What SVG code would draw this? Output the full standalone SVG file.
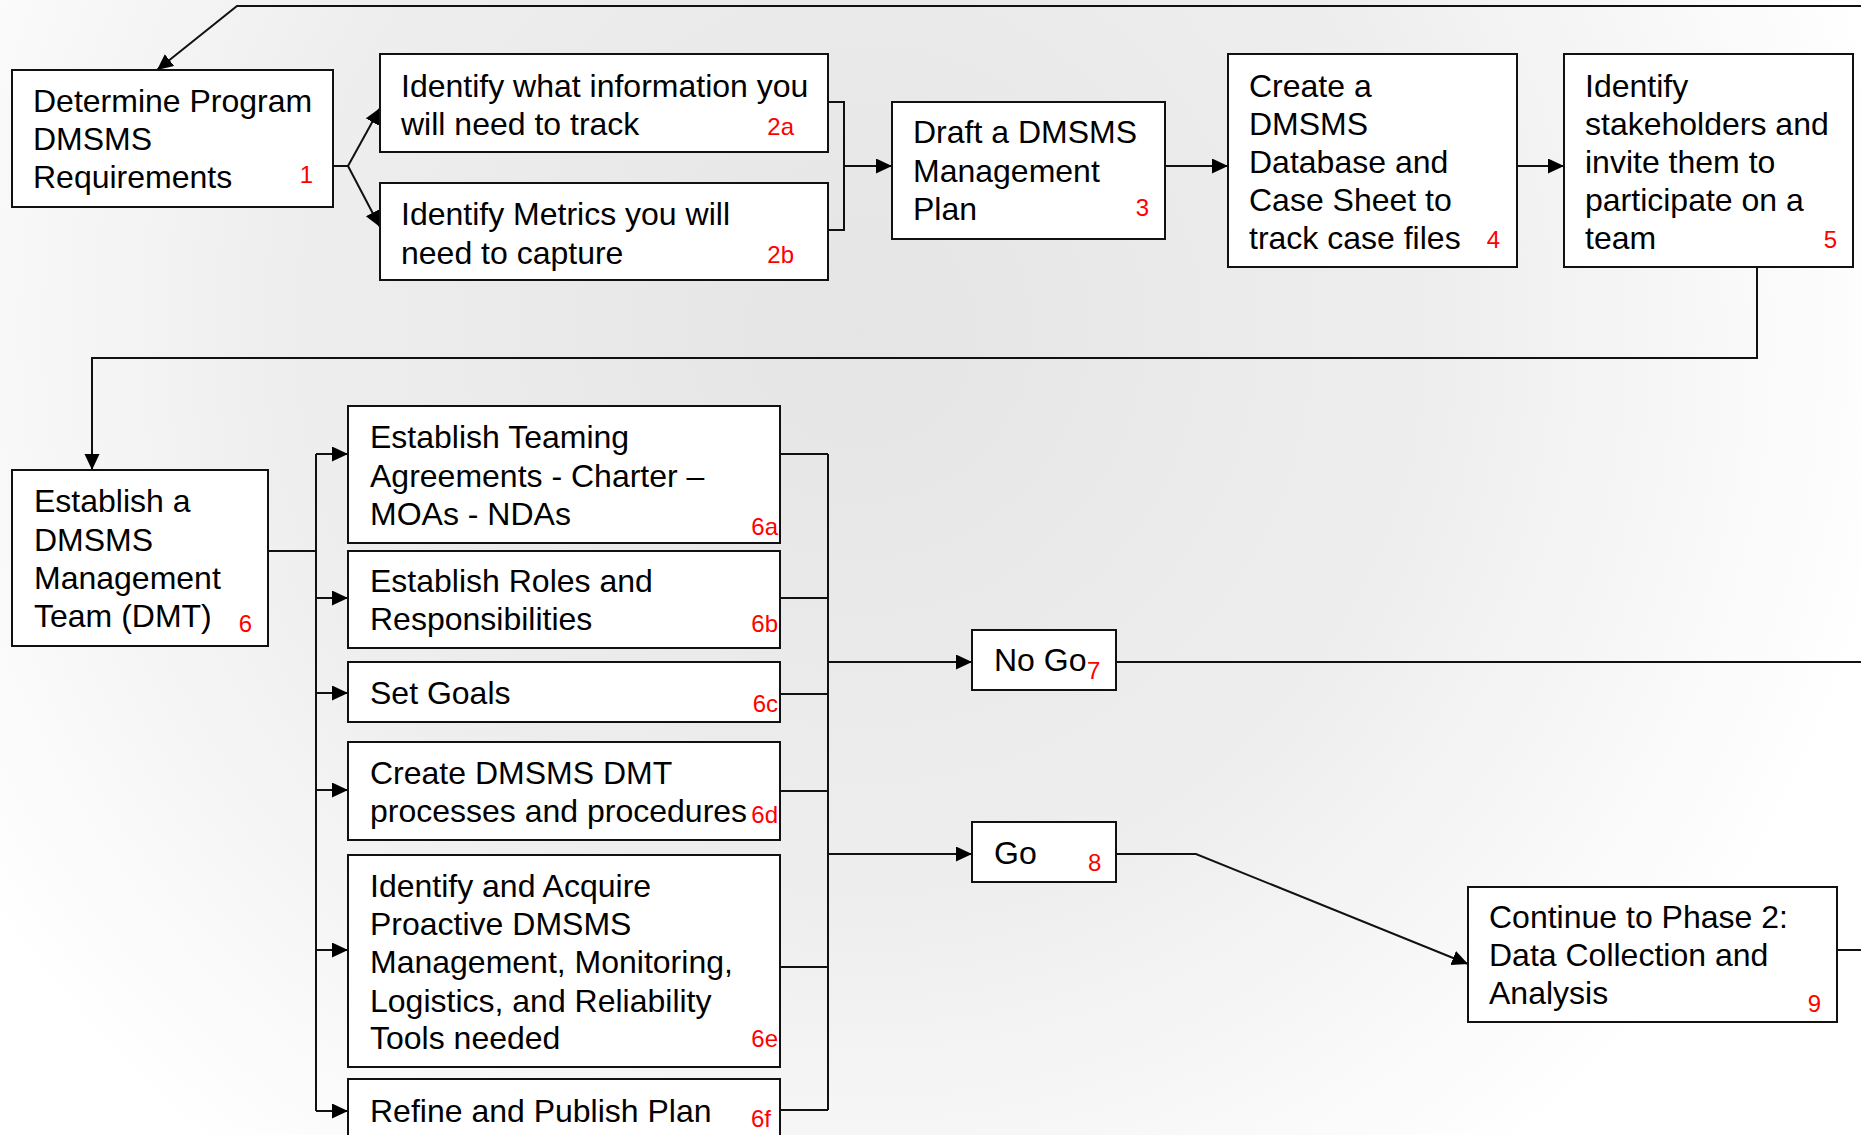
<svg xmlns="http://www.w3.org/2000/svg" width="1861" height="1135" viewBox="0 0 1861 1135">
<defs>
<radialGradient id="bg" gradientUnits="userSpaceOnUse" cx="860" cy="330" r="1050">
<stop offset="0" stop-color="#e5e5e5"/>
<stop offset="0.55" stop-color="#eeeeee"/>
<stop offset="1" stop-color="#ffffff"/>
</radialGradient>
<marker id="arr" markerUnits="userSpaceOnUse" markerWidth="18" markerHeight="16" refX="16" refY="7.5" orient="auto">
<path d="M0,0 L16,7.5 L0,15 z" fill="#000"/>
</marker>
<style>
.box{fill:#fff;stroke:#111;stroke-width:2}
.t{font-family:"Liberation Sans",Arial,sans-serif;font-size:32px;fill:#000}
.n{font-family:"Liberation Sans",Arial,sans-serif;font-size:24px;fill:#ff0000}
.c{fill:none;stroke:#111;stroke-width:2}
.a{fill:none;stroke:#111;stroke-width:2;marker-end:url(#arr)}
</style>
</defs>
<rect x="0" y="0" width="1861" height="1135" fill="url(#bg)"/>

<g id="connectors">
<path class="a" d="M1861,6 H237 L157,70"/>
<path class="c" d="M333,166 H348"/>
<path class="a" d="M348,166 L380,108"/>
<path class="a" d="M348,166 L380,227"/>
<path class="c" d="M828,102 H844 V230 H828"/>
<path class="a" d="M844,166 H892"/>
<path class="a" d="M1165,166 H1228"/>
<path class="a" d="M1517,166 H1564"/>
<path class="a" d="M1757,262 V358 H92 V470"/>
<path class="c" d="M268,551 H316 M316,454 V1111"/>
<path class="a" d="M316,454 H348"/>
<path class="a" d="M316,598 H348"/>
<path class="a" d="M316,693 H348"/>
<path class="a" d="M316,790 H348"/>
<path class="a" d="M316,950 H348"/>
<path class="a" d="M316,1111 H348"/>
<path class="c" d="M780,454 H828 M780,598 H828 M780,694 H828 M780,791 H828 M780,967 H828 M780,1110 H828 M828,454 V1110"/>
<path class="a" d="M828,662 H972"/>
<path class="a" d="M828,854 H972"/>
<path class="c" d="M1116,662 H1861"/>
<path class="a" d="M1116,854 H1196 L1468,964"/>
<path class="c" d="M1837,950 H1861"/>
</g>

<g id="n1">
<rect class="box" x="12" y="70" width="321" height="137"/>
<text class="t" x="33" y="112">Determine Program</text>
<text class="t" x="33" y="150">DMSMS</text>
<text class="t" x="33" y="188">Requirements</text>
<text class="n" x="313" y="183" text-anchor="end">1</text>
</g>
<g id="n2a">
<rect class="box" x="380" y="54" width="448" height="98"/>
<text class="t" x="401" y="97">Identify what information you</text>
<text class="t" x="401" y="135">will need to track</text>
<text class="n" x="794" y="135" text-anchor="end">2a</text>
</g>
<g id="n2b">
<rect class="box" x="380" y="183" width="448" height="97"/>
<text class="t" x="401" y="225">Identify Metrics you will</text>
<text class="t" x="401" y="264">need to capture</text>
<text class="n" x="794" y="263" text-anchor="end">2b</text>
</g>
<g id="n3">
<rect class="box" x="892" y="102" width="273" height="137"/>
<text class="t" x="913" y="143">Draft a DMSMS</text>
<text class="t" x="913" y="182">Management</text>
<text class="t" x="913" y="220">Plan</text>
<text class="n" x="1149" y="216" text-anchor="end">3</text>
</g>
<g id="n4">
<rect class="box" x="1228" y="54" width="289" height="213"/>
<text class="t" x="1249" y="97">Create a</text>
<text class="t" x="1249" y="135">DMSMS</text>
<text class="t" x="1249" y="173">Database and</text>
<text class="t" x="1249" y="211">Case Sheet to</text>
<text class="t" x="1249" y="249">track case files</text>
<text class="n" x="1500" y="248" text-anchor="end">4</text>
</g>
<g id="n5">
<rect class="box" x="1564" y="54" width="289" height="213"/>
<text class="t" x="1585" y="97">Identify</text>
<text class="t" x="1585" y="135">stakeholders and</text>
<text class="t" x="1585" y="173">invite them to</text>
<text class="t" x="1585" y="211">participate on a</text>
<text class="t" x="1585" y="249">team</text>
<text class="n" x="1837" y="248" text-anchor="end">5</text>
</g>
<g id="n6">
<rect class="box" x="12" y="470" width="256" height="176"/>
<text class="t" x="34" y="512">Establish a</text>
<text class="t" x="34" y="551">DMSMS</text>
<text class="t" x="34" y="589">Management</text>
<text class="t" x="34" y="627">Team (DMT)</text>
<text class="n" x="252" y="632" text-anchor="end">6</text>
</g>
<g id="n6a">
<rect class="box" x="348" y="406" width="432" height="137"/>
<text class="t" x="370" y="448">Establish Teaming</text>
<text class="t" x="370" y="487">Agreements - Charter –</text>
<text class="t" x="370" y="525">MOAs - NDAs</text>
<text class="n" x="778" y="535" text-anchor="end">6a</text>
</g>
<g id="n6b">
<rect class="box" x="348" y="551" width="432" height="97"/>
<text class="t" x="370" y="592">Establish Roles and</text>
<text class="t" x="370" y="630">Responsibilities</text>
<text class="n" x="778" y="632" text-anchor="end">6b</text>
</g>
<g id="n6c">
<rect class="box" x="348" y="662" width="432" height="60"/>
<text class="t" x="370" y="704">Set Goals</text>
<text class="n" x="778" y="712" text-anchor="end">6c</text>
</g>
<g id="n6d">
<rect class="box" x="348" y="742" width="432" height="98"/>
<text class="t" x="370" y="784">Create DMSMS DMT</text>
<text class="t" x="370" y="822">processes and procedures</text>
<text class="n" x="778" y="823" text-anchor="end">6d</text>
</g>
<g id="n6e">
<rect class="box" x="348" y="855" width="432" height="212"/>
<text class="t" x="370" y="897">Identify and Acquire</text>
<text class="t" x="370" y="935">Proactive DMSMS</text>
<text class="t" x="370" y="973">Management, Monitoring,</text>
<text class="t" x="370" y="1012">Logistics, and Reliability</text>
<text class="t" x="370" y="1049">Tools needed</text>
<text class="n" x="778" y="1047" text-anchor="end">6e</text>
</g>
<g id="n6f">
<rect class="box" x="348" y="1079" width="432" height="80"/>
<text class="t" x="370" y="1122">Refine and Publish Plan</text>
<text class="n" x="771" y="1127" text-anchor="end">6f</text>
</g>
<g id="n7">
<rect class="box" x="972" y="630" width="144" height="60"/>
<text class="t" x="994" y="671">No Go</text>
<text class="n" x="1087" y="679">7</text>
</g>
<g id="n8">
<rect class="box" x="972" y="822" width="144" height="60"/>
<text class="t" x="994" y="864">Go</text>
<text class="n" x="1088" y="871">8</text>
</g>
<g id="n9">
<rect class="box" x="1468" y="887" width="369" height="135"/>
<text class="t" x="1489" y="928">Continue to Phase 2:</text>
<text class="t" x="1489" y="966">Data Collection and</text>
<text class="t" x="1489" y="1004">Analysis</text>
<text class="n" x="1821" y="1012" text-anchor="end">9</text>
</g>
</svg>
